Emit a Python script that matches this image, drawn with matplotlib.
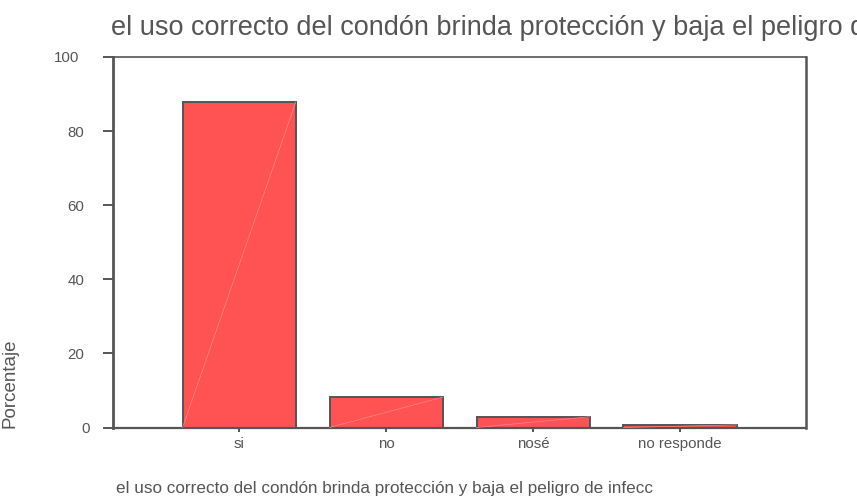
import matplotlib
matplotlib.use("Agg")
import matplotlib.pyplot as plt
import matplotlib.transforms as mtransforms

categories = ["si", "no", "nosé", "no responde"]
values = [87.8, 8.2, 2.9, 0.7]
yticks = [0, 20, 40, 60, 80, 100]
title = "el uso correcto del condón brinda protección y baja el peligro de infecc"
xlabel = "el uso correcto del condón brinda protección y baja el peligro de infecc"
ylabel = "Porcentaje"

plt.rcParams['font.family'] = ['Liberation Sans', 'DejaVu Sans']
TXT = "#555555"
EDGE = "#555555"
FILL = "#FF5252"

fig = plt.figure(figsize=(8.57, 4.97), dpi=100)
ax = fig.add_axes([113.5/857, 1-427.5/497, (806-113.5)/857, (427.5-57)/497])

x = list(range(len(categories)))
bars = ax.bar(x, values, width=0.77, color=FILL, edgecolor=EDGE, linewidth=1.4, zorder=2)
for b in bars:
    x0, w, h = b.get_x(), b.get_width(), b.get_height()
    ax.plot([x0, x0 + w], [0, h], color="#FF8A8A", linewidth=0.5, zorder=3)

ax.set_xlim(-0.855, 3.857)
ax.set_ylim(0, 100)
ax.set_xticks(x)
ax.set_xticklabels(categories)
ax.set_yticks(yticks)
ax.set_yticklabels([str(t) for t in yticks])

for side, lw in [("left", 2.0), ("right", 1.8), ("top", 1.2), ("bottom", 1.6)]:
    ax.spines[side].set_color(EDGE)
    ax.spines[side].set_linewidth(lw)

ax.tick_params(axis='y', direction='out', length=7, width=1.4, color=EDGE,
               labelcolor=TXT, labelsize=10.8, pad=14)
ax.tick_params(axis='x', direction='out', length=3, width=1.4, color=EDGE,
               labelcolor=TXT, labelsize=10.8, pad=4)

# small per-label offsets as in reference
offs = {100: -5, 0: 6}
for t, lab in zip(yticks, ax.get_yticklabels()):
    if t in offs:
        lab.set_transform(lab.get_transform() +
                          mtransforms.ScaledTranslation(offs[t]/100, 0, fig.dpi_scale_trans))

ax.set_ylabel(ylabel, color=TXT, fontsize=13.5, loc='bottom')
ax.yaxis.set_label_coords((19-113.5)/692.5, 0)
ax.set_xlabel(xlabel, color=TXT, fontsize=12.3, ha='left')
ax.xaxis.set_label_coords((116-113.5)/692.5, -(489-427.5)/370.5)
ax.xaxis.label.set_va('center')

fig.text(111/857, 1-28/497, title, color=TXT, fontsize=19.5, ha='left', va='center')

fig.savefig("out.png", dpi=100)
